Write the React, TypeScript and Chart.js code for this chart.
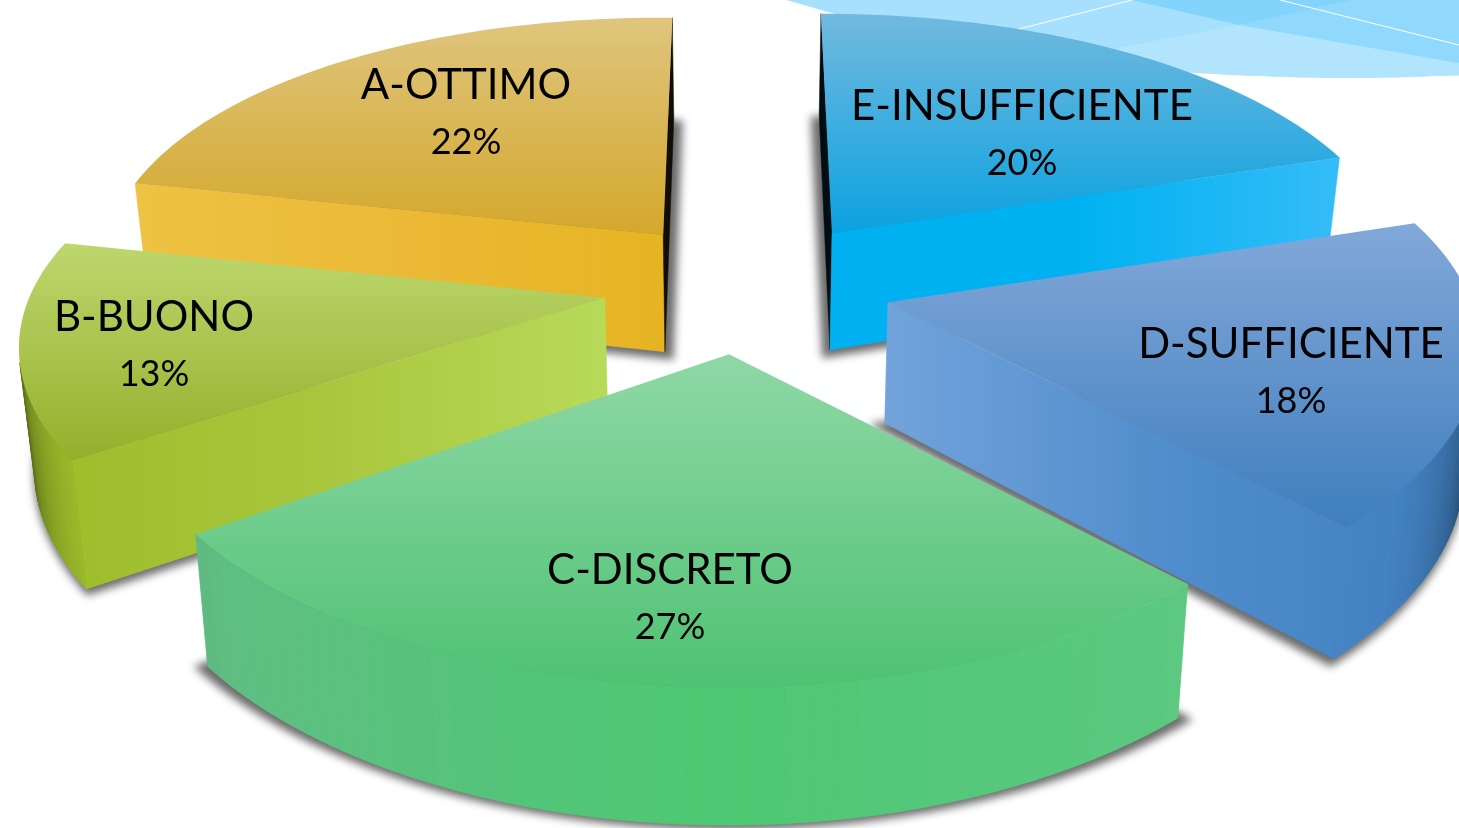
import React, { useEffect, useRef } from "react";
import { Chart, registerables } from "chart.js";

Chart.register(...registerables);

// Clockwise from twelve o'clock
const categories = ["E-INSUFFICIENTE", "D-SUFFICIENTE", "C-DISCRETO", "B-BUONO", "A-OTTIMO"];
const percents = [20, 18, 27, 13, 22];
const percentLabels = ["20%", "18%", "27%", "13%", "22%"];
const explodeOffsets = [92, 96, 63, 81, 74];

const topColors = [
  ["#72B9DE", "#0BA2E0"],
  ["#82A8D9", "#3F7EBE"],
  ["#8FD8A6", "#4FC273"],
  ["#BDD76E", "#95AF2C"],
  ["#DFC57E", "#D4A82C"],
];
const wallColors = [
  ["#00B0F0", "#00B2F1", "#35BCF8"],
  ["#72A3DB", "#4F8CCB", "#3F7EBE"],
  ["#60BE83", "#4DC873", "#5CC880"],
  ["#9CBC28", "#A8C63C", "#B8DA5A"],
  ["#EEC243", "#EBB935", "#E6B422"],
];
// Fine placement of each slice in the pie's plane (style, not data)
const sliceShift = [
  [0.014, -0.002],
  [-0.003, -0.014],
  [-0.002, 0.058],
  [-0.014, -0.013],
  [-0.006, -0.043],
];
const sliceScale = [
  [0.985, 1.0],
  [0.99, 0.955],
  [1.004, 0.915],
  [0.978, 0.93],
  [0.975, 0.985],
];
const sliceShear = [
  [0, 0],
  [0, 0],
  [0, 0],
  [-0.054, 0.028],
  [0, 0.022],
];
const labelPositions = [
  [1022, 106],
  [1291, 344],
  [670, 570],
  [154, 317],
  [466, 85],
];
const LABEL_GAP = 57;

// Perspective of the pie's plane
const view = { cx: 740, cy: 288, ax: 585, ay: 277, kx: 0.14, ky: 0.18, height: 120, hv: 0.13, taper: 0.022 };

const hex = (c: string) => [1, 3, 5].map((i) => parseInt(c.slice(i, i + 2), 16));
const mix = (a: string, b: string, t: number) => {
  const p = hex(a), q = hex(b);
  return `rgb(${p.map((x, i) => Math.round(x + (q[i] - x) * t)).join(",")})`;
};
const rgbHex = (c: string) => {
  const m = c.match(/\d+/g)!.map(Number);
  return "#" + m.map((x) => x.toString(16).padStart(2, "0")).join("");
};
const ramp = (stops: string[], t: number) => {
  const x = Math.max(0, Math.min(0.9999, t)) * (stops.length - 1);
  const i = Math.floor(x);
  return rgbHex(mix(stops[i], stops[i + 1], x - i));
};
const darkness = (nv: number) => {
  if (nv >= 0.65) return 0;
  if (nv <= 0) return 0.92;
  return 0.92 * Math.pow(1 - nv / 0.65, 1.5);
};

const project = (u: number, v: number, h: number) => {
  const s = 1 - view.taper * h;
  const x = view.cx + (view.ax * u * s) / (1 - view.kx * v);
  const y = view.cy + (view.ay * v) / (1 - view.ky * v) + h * view.height * (1 + view.hv * v);
  return [x, y];
};
const area = (pts: number[][]) => {
  let a = 0;
  pts.forEach((p, i) => {
    const q = pts[(i + 1) % pts.length];
    a += p[0] * q[1] - q[0] * p[1];
  });
  return a / 2;
};
const fillPoly = (ctx: CanvasRenderingContext2D, pts: number[][]) => {
  ctx.beginPath();
  pts.forEach((p, i) => (i ? ctx.lineTo(p[0], p[1]) : ctx.moveTo(p[0], p[1])));
  ctx.closePath();
  ctx.fill();
};

const drawBackdrop = (ctx: CanvasRenderingContext2D) => {
  ctx.save();
  ctx.beginPath();
  ctx.ellipse(1348, -422, 1047, 500, 0, 0, Math.PI * 2);
  ctx.clip();
  ctx.fillStyle = "#A6E0FD";
  ctx.fillRect(760, 0, 699, 100);
  ctx.fillStyle = "#B2E5FD";
  fillPoly(ctx, [[1117, 48], [1239, 25], [1459, 63], [1459, 100], [1117, 100]]);
  ctx.fillStyle = "#90D9FD";
  fillPoly(ctx, [[1239, 25], [1353, 0], [1459, 0], [1459, 63]]);
  ctx.fillStyle = "#82D4FD";
  fillPoly(ctx, [[1132, 0], [1239, 25], [1353, 0]]);
  ctx.strokeStyle = "#FFFFFF";
  ctx.lineWidth = 1;
  ctx.beginPath();
  ctx.moveTo(1015, 30);
  ctx.lineTo(1132, 0);
  ctx.moveTo(1280, 0);
  ctx.lineTo(1459, 45);
  ctx.stroke();
  ctx.restore();
};

const pie3d = {
  id: "pie3d",
  beforeDatasetsDraw(chart: any) {
    const ctx: CanvasRenderingContext2D = chart.ctx;
    const arcs = chart.getDatasetMeta(0).data;
    drawBackdrop(ctx);

    const slices = arcs.map((arc: any, i: number) => {
      const a0 = arc.startAngle, a1 = arc.endAngle, mid = (a0 + a1) / 2;
      const e = arc.options.offset / arc.outerRadius;
      return {
        i, a0, a1,
        ox: e * Math.cos(mid) + sliceShift[i][0],
        oy: e * Math.sin(mid) + sliceShift[i][1],
      };
    });
    slices.sort((p: any, q: any) => p.oy - q.oy);

    slices.forEach(({ i, a0, a1, ox, oy }: any) => {
      const steps = 48;
      const angles = Array.from({ length: steps + 1 }, (_, k) => a0 + ((a1 - a0) * k) / steps);
      const ring = angles.map((a) => [
        ox + sliceScale[i][0] * Math.cos(a) + sliceShear[i][0] * Math.sin(a),
        oy + sliceScale[i][1] * Math.sin(a) + sliceShear[i][1] * Math.cos(a),
      ]);
      const plane = [[ox, oy], ...ring];
      const top = plane.map(([u, v]) => project(u, v, 0));
      const bottom = plane.map(([u, v]) => project(u, v, 1));
      const xs = top.concat(bottom).map((p) => p[0]);
      const minX = Math.min(...xs), maxX = Math.max(...xs);
      const ys = top.map((p) => p[1]);
      const minY = Math.min(...ys), maxY = Math.max(...ys);
      const wallAt = (x: number) => ramp(wallColors[i], (x - minX) / (maxX - minX));

      // soft ground shadow under the bottom face
      const gx = bottom.reduce((s, p) => s + p[0], 0) / bottom.length;
      const gy = bottom.reduce((s, p) => s + p[1], 0) / bottom.length;
      ctx.save();
      ctx.filter = "blur(4px)";
      ctx.fillStyle = "rgba(70,70,70,0.8)";
      fillPoly(ctx, bottom.map((p) => [gx + (p[0] - gx) * 1.03, gy + (p[1] - gy) * 1.03 + 3]));
      ctx.restore();

      // radial walls
      const radial = (pa: number[], pb: number[], qa: number[], qb: number[], nv: number) => {
        const quad = [pa, qa, qb, pb];
        if (area(quad) >= 0) return;
        const g = ctx.createLinearGradient(minX, 0, maxX, 0);
        const dark = darkness(nv);
        wallColors[i].forEach((c, k) =>
          g.addColorStop(k / (wallColors[i].length - 1), mix(c, "#000000", dark))
        );
        ctx.fillStyle = g;
        ctx.strokeStyle = g;
        ctx.lineWidth = 0.5;
        fillPoly(ctx, quad);
        ctx.stroke();
      };
      radial(top[0], bottom[0], top[1], bottom[1], -Math.cos(a0));
      radial(top[steps + 1], bottom[steps + 1], top[0], bottom[0], Math.cos(a1));

      // outer wall, facet by facet
      for (let k = 1; k <= steps; k++) {
        const quad = [top[k], top[k + 1], bottom[k + 1], bottom[k]];
        if (area(quad) >= 0) continue;
        const mida = (angles[k - 1] + angles[k]) / 2;
        const c = mix(wallAt((top[k][0] + top[k + 1][0]) / 2), "#000000", darkness(Math.sin(mida)));
        ctx.fillStyle = c;
        ctx.strokeStyle = c;
        ctx.lineWidth = 0.8;
        fillPoly(ctx, quad);
        ctx.stroke();
      }

      // top face
      const g = ctx.createLinearGradient(0, minY, 0, maxY);
      g.addColorStop(0, topColors[i][0]);
      g.addColorStop(1, topColors[i][1]);
      ctx.fillStyle = g;
      fillPoly(ctx, top);
    });

    // labels
    ctx.save();
    ctx.fillStyle = "#000000";
    ctx.textAlign = "center";
    ctx.textBaseline = "middle";
    categories.forEach((name, i) => {
      const [x, y] = labelPositions[i];
      ctx.font = "42px Lato";
      ctx.fillText(name, x, y);
      ctx.font = "36px Lato";
      ctx.fillText(percentLabels[i], x, y + LABEL_GAP);
    });
    ctx.restore();
    return false;
  },
};

export default function App() {
  const ref = useRef<HTMLCanvasElement>(null);
  useEffect(() => {
    document.body.style.margin = "0";
    const chart = new Chart(ref.current!, {
      type: "pie",
      data: {
        labels: categories,
        datasets: [
          {
            data: percents,
            offset: explodeOffsets,
            borderWidth: 0,
            backgroundColor: wallColors.map((c) => c[1]),
          },
        ],
      },
      options: {
        animation: false,
        responsive: false,
        layout: { padding: 0 },
        plugins: { legend: { display: false }, tooltip: { enabled: false } },
      },
      plugins: [pie3d],
    } as any);
    return () => chart.destroy();
  }, []);
  return (
    <div style={{ width: 1459, height: 828, overflow: "hidden", background: "#fff" }}>
      <canvas ref={ref} width={1459} height={828} style={{ display: "block" }} />
    </div>
  );
}
